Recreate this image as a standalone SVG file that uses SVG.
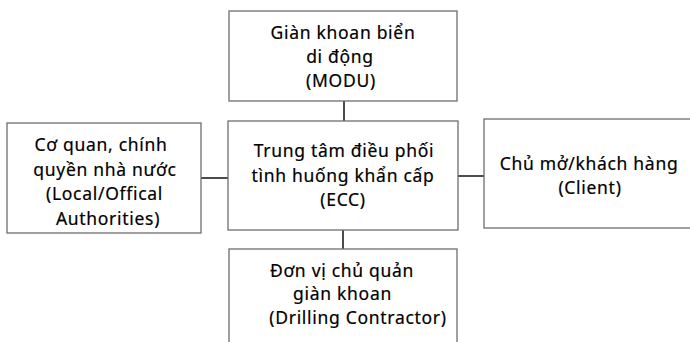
<svg xmlns="http://www.w3.org/2000/svg" width="690" height="342" viewBox="0 0 690 342">
  <style>
    .box { fill: #ffffff; stroke: #6d6e71; stroke-width: 1.3; }
    .link { stroke: #231f20; stroke-width: 1.6; fill: none; }
    .label { font-family: "Noto Sans", "Open Sans", sans-serif; font-size: 17.5px; letter-spacing: 0.7px; fill: #000000; stroke: #000000; stroke-width: 0.2; text-anchor: middle; }
  </style>
  <rect width="690" height="342" fill="#ffffff"/>

  <!-- connectors -->
  <g id="connectors">
    <line class="link" x1="344" y1="101" x2="344" y2="121"/>
    <line class="link" x1="201" y1="178" x2="228" y2="178"/>
    <line class="link" x1="458" y1="176" x2="484" y2="176"/>
    <line class="link" x1="343" y1="230" x2="343" y2="249"/>
  </g>

  <g id="modu">
    <rect class="box" x="229" y="11" width="228" height="90"/>
    <text class="label" x="343" y="38.5">Giàn khoan biển</text>
    <text class="label" x="340" y="63">di động</text>
    <text class="label" x="341" y="87">(MODU)</text>
  </g>

  <g id="ecc">
    <rect class="box" x="228" y="121" width="230" height="109"/>
    <text class="label" x="344" y="157">Trung tâm điều phối</text>
    <text class="label" x="343" y="182">tình huống khẩn cấp</text>
    <text class="label" x="343" y="206">(ECC)</text>
  </g>

  <g id="authorities">
    <rect class="box" x="7" y="123" width="194" height="110"/>
    <text class="label" x="101" y="151">Cơ quan, chính</text>
    <text class="label" x="105" y="175.5">quyền nhà nước</text>
    <text class="label" x="104.5" y="200">(Local/Offical</text>
    <text class="label" x="108" y="224.5">Authorities)</text>
  </g>

  <g id="client">
    <rect class="box" x="484" y="119" width="220" height="109"/>
    <text class="label" x="589" y="170">Chủ mở/khách hàng</text>
    <text class="label" x="590" y="193.5">(Client)</text>
  </g>

  <g id="contractor">
    <rect class="box" x="229" y="249" width="228" height="110"/>
    <text class="label" x="342" y="276.5">Đơn vị chủ quản</text>
    <text class="label" x="342.5" y="300">giàn khoan</text>
    <text class="label" x="358" y="323.5">(Drilling Contractor)</text>
  </g>
</svg>
